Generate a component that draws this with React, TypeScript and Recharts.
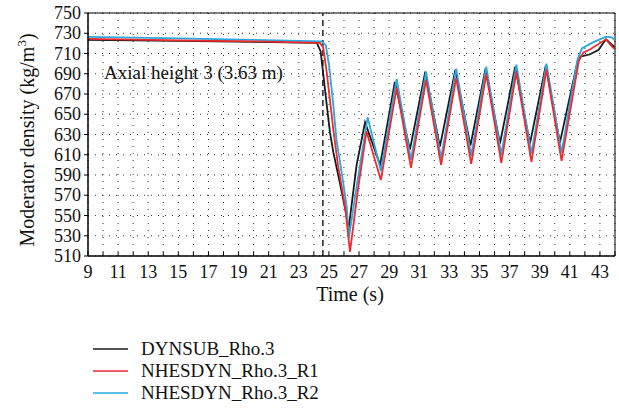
import React from 'react';
import { LineChart, Line, XAxis, YAxis, CartesianGrid, ReferenceLine } from 'recharts';

const FONT = "'Liberation Serif', 'Times New Roman', serif";

// x ticks (every 1 s as minor, labeled every 2 s)
const xTicks = [9, 10, 11, 12, 13, 14, 15, 16, 17, 18, 19, 20, 21, 22, 23, 24, 25, 26, 27, 28, 29, 30, 31, 32, 33, 34, 35, 36, 37, 38, 39, 40, 41, 42, 43, 44];
const xLabeled = [9, 11, 13, 15, 17, 19, 21, 23, 25, 27, 29, 31, 33, 35, 37, 39, 41, 43];
const yTicks = [510, 530, 550, 570, 590, 610, 630, 650, 670, 690, 710, 730, 750];

const blackTime = [9, 15, 20, 24.2, 24.45, 24.62, 24.85, 25.07, 25.3, 25.73, 26.18, 26.3, 26.84, 27.4, 28.4, 29.38, 30.38, 31.4, 32.37, 33.4, 34.4, 35.4, 36.36, 37.37, 38.35, 39.4, 40.34, 41.45, 41.7, 42.3, 42.9, 43.4, 44];
const blackRho = [723.5, 722.5, 721.5, 720.5, 712, 690, 660, 632, 612, 582, 549, 535.7, 600, 642, 600, 682, 615, 692, 618, 694, 619, 695, 621, 697, 621, 698, 622, 698, 707, 709, 713.5, 724, 716];

const redTime = [9, 15, 20, 24.4, 24.62, 24.85, 25.07, 25.3, 25.6, 26.07, 26.4, 26.95, 27.5, 28.45, 29.5, 30.45, 31.45, 32.45, 33.45, 34.45, 35.45, 36.45, 37.45, 38.45, 39.45, 40.45, 41.6, 41.9, 42.33, 43.4, 43.85, 44];
const redRho = [724.5, 723, 722, 720.5, 716, 692, 664, 634, 600, 559, 514, 578, 633, 585, 676, 597, 684, 600, 686, 601, 690, 602, 692, 603, 694, 604, 703, 711, 714, 724, 716, 714];

const blueTime = [9, 15, 20, 24.5, 24.8, 25.02, 25.3, 25.5, 25.85, 26.18, 26.32, 26.84, 27.57, 28.45, 29.5, 30.45, 31.45, 32.45, 33.45, 34.45, 35.45, 36.45, 37.45, 38.45, 39.45, 40.45, 41.5, 41.8, 42.5, 43.4, 43.8, 44];
const blueRho = [726.5, 725, 723.5, 722, 718, 697, 658, 625, 592, 559, 527.5, 578.5, 647, 594, 685, 605, 692, 606.5, 695, 609, 697, 610, 699, 611, 700, 612, 703.6, 715, 720.7, 726.6, 726, 723];

const seriesNames = ['DYNSUB_Rho.3', 'NHESDYN_Rho.3_R1', 'NHESDYN_Rho.3_R2'];
const seriesColors = ['#1a1a1a', '#ee2a2f', '#2aa8e0'];

const toData = (t: number[], v: number[]) => t.map((x, i) => ({ t: x, v: v[i] }));
const blackData = toData(blackTime, blackRho);
const redData = toData(redTime, redRho);
const blueData = toData(blueTime, blueRho);

const XTick = (props: any) => {
  const { x, payload } = props;
  const labeled = xLabeled.includes(payload.value);
  return (
    <g>
      <line x1={x} x2={x} y1={256} y2={252} stroke="#000" strokeWidth={1} />
      {labeled && (
        <text x={x} y={278} textAnchor="middle" fontFamily={FONT} fontSize={18} fill="#111">
          {payload.value}
        </text>
      )}
    </g>
  );
};

const YTick = (props: any) => {
  const { x, y, payload } = props;
  return (
    <text x={x} y={y + 6} textAnchor="end" fontFamily={FONT} fontSize={18} fill="#111">
      {payload.value}
    </text>
  );
};

const css = `.chartwrap, .chartwrap * { font-family: 'Liberation Serif', 'Times New Roman', serif !important; }`;

export default function App() {
  return (
    <div className="chartwrap" style={{ position: 'absolute', left: 0, top: 0, width: 619, height: 411, background: '#fff', fontFamily: FONT }}>
      <style>{css}</style>
      <LineChart width={619} height={411} margin={{ top: 13, right: 4, bottom: 125, left: 0 }}>
        <CartesianGrid stroke="#333" strokeDasharray="1 6" strokeWidth={1} />
        <XAxis
          dataKey="t"
          type="number"
          domain={[9, 44]}
          ticks={xTicks}
          interval={0}
          tick={<XTick />}
          tickLine={false}
          tickSize={0}
          height={30}
          axisLine={{ stroke: '#000', strokeWidth: 1.5 }}
          allowDataOverflow
        />
        <YAxis
          type="number"
          domain={[510, 750]}
          ticks={yTicks}
          interval={0}
          width={88}
          tickSize={4}
          tickMargin={3}
          tickLine={{ stroke: '#000' }}
          axisLine={{ stroke: '#000', strokeWidth: 1.5 }}
          tick={<YTick />}
          allowDataOverflow
        />
        <ReferenceLine y={750} stroke="#000" strokeWidth={1} />
        <ReferenceLine x={44} stroke="#000" strokeWidth={1} />
        <ReferenceLine x={24.6} stroke="#000" strokeWidth={1.3} strokeDasharray="6 4" />
        <Line data={blackData} dataKey="v" type="linear" stroke={seriesColors[0]} strokeWidth={1.8} dot={false} isAnimationActive={false} />
        <Line data={blueData} dataKey="v" type="linear" stroke={seriesColors[2]} strokeWidth={1.8} dot={false} isAnimationActive={false} />
        <Line data={redData} dataKey="v" type="linear" stroke={seriesColors[1]} strokeWidth={1.8} dot={false} isAnimationActive={false} />
      </LineChart>
      <svg width={619} height={411} style={{ position: 'absolute', left: 0, top: 0, pointerEvents: 'none' }}>
        <text x={104} y={79} fontFamily={FONT} fontSize={19} fill="#111">Axial height 3 (3.63 m)</text>
        <text transform="translate(34,140) rotate(-90)" textAnchor="middle" fontFamily={FONT} fontSize={20} fill="#111">
          Moderator density (kg/m<tspan dy={-8} fontSize={13}>3</tspan><tspan dy={8}>)</tspan>
        </text>
        {seriesNames.map((n, i) => (
          <line key={n} x1={93} x2={128} y1={349 + i * 22} y2={349 + i * 22} stroke={seriesColors[i]} strokeWidth={1.5} />
        ))}
      </svg>
      <div style={{ position: 'absolute', left: 250, width: 200, top: 283, textAlign: 'center', fontFamily: FONT, fontSize: 20, lineHeight: '22px', color: '#111' }}>
        Time (s)
      </div>
      {seriesNames.map((n, i) => (
        <div key={n} style={{ position: 'absolute', left: 141, top: 338 + i * 22, fontFamily: FONT, fontSize: 19, lineHeight: '22px', color: '#111', whiteSpace: 'nowrap' }}>
          {n}
        </div>
      ))}
    </div>
  );
}
